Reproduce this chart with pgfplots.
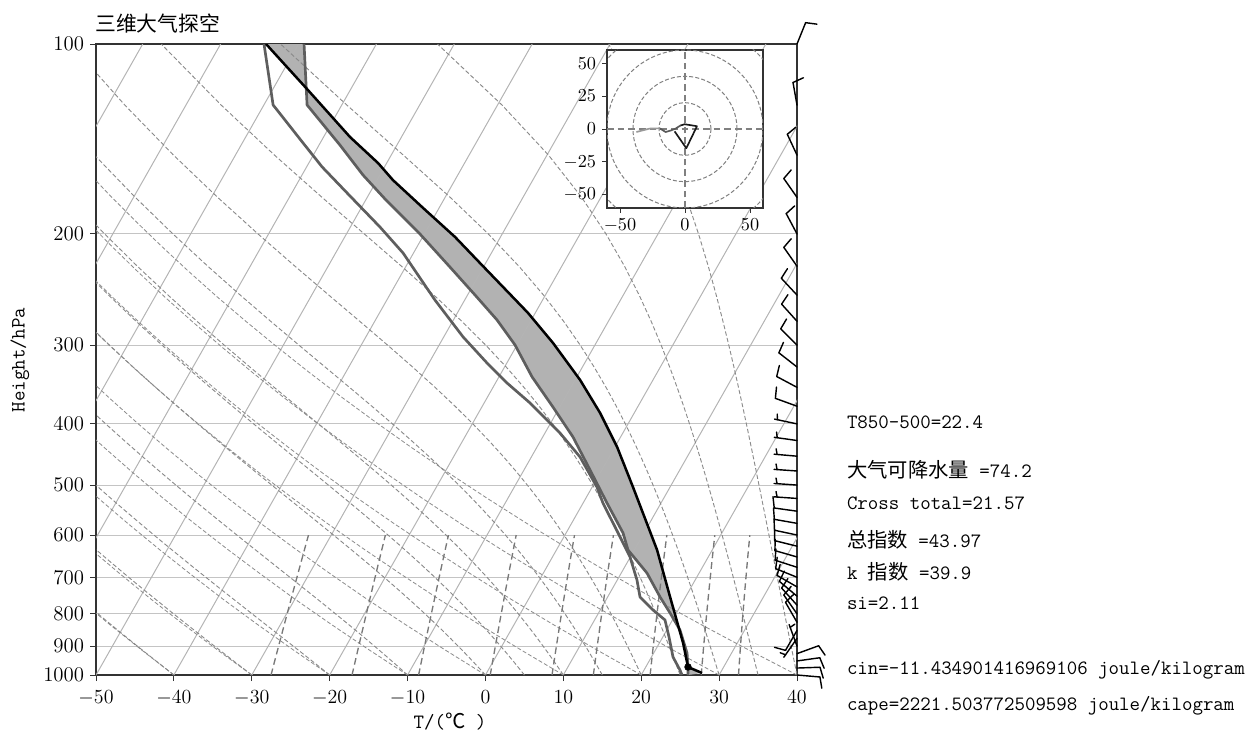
\documentclass[border=0pt]{standalone}
\usepackage{fontspec}
\usepackage{pgfplots}
\usepackage{pgfplotstable}
\pgfplotsset{compat=1.18}
\newfontfamily\cjk{Noto Sans CJK SC}

\definecolor{isoc}{HTML}{B4B4B4}
\definecolor{gridc}{HTML}{C4C4C4}
\definecolor{dryc}{HTML}{8E8E8E}
\definecolor{moistc}{HTML}{8A8A8A}
\definecolor{mixc}{HTML}{787878}
\definecolor{profc}{HTML}{5E5E5E}
\definecolor{shadec}{HTML}{B2B2B2}

\pgfplotsset{
 iso/.style={isoc, line width=0.6pt},
 dry/.style={dryc, line width=0.5pt, dash pattern=on 2.4pt off 1.3pt},
 moist/.style={moistc, line width=0.55pt, dash pattern=on 2.6pt off 1.4pt},
 mix/.style={mixc, line width=0.8pt, dash pattern=on 4pt off 2.4pt},
 table/skewx/.style={x expr={\thisrow{T}+46*log10(1000/\thisrow{p})}, y=p},
 table/barbbase/.style={x expr=420.6, y expr={378.6*log10(1000/\thisrow{p})}},
}

% environment temperature (hPa, degC)
\pgfplotstableread{
p T
1000 26.00
971.2 25.43
922.9 24.28
848.6 21.70
797.5 19.18
752.1 16.72
689.4 13.31
633.6 9.19
595.5 7.31
533.9 3.07
473.2 -1.52
419.6 -6.11
376.1 -10.87
337.0 -15.74
299.9 -20.26
273.7 -24.40
249.9 -29.04
225.7 -34.29
199.3 -40.75
176.7 -47.40
161.3 -52.17
144.6 -57.31
124.9 -64.46
100.0 -69.29
}\tempdata

% dewpoint
\pgfplotstableread{
p T
1000 25.24
981.9 24.61
936.5 22.77
870.6 20.80
818.1 19.04
788.8 16.77
752.1 14.15
707.1 12.53
650.1 9.96
604.3 7.22
533.9 2.55
503.6 0.61
451.3 -3.75
413.5 -8.07
370.6 -14.11
344.5 -18.52
320.3 -22.54
291.2 -27.52
254.5 -33.82
214.4 -41.34
195.0 -46.20
172.2 -52.91
156.6 -58.01
143.5 -62.20
124.9 -68.82
100.0 -74.43
}\dewdata

% parcel profile
\pgfplotstableread{
p T
992.7 27.66
971.2 25.42
889.7 23.04
752.1 18.01
633.6 12.92
503.6 5.24
435.0 0.27
384.3 -4.39
340.7 -9.36
297.7 -15.53
266.8 -20.93
245.4 -25.43
222.4 -30.73
202.2 -35.84
181.9 -42.06
164.3 -47.96
154.4 -51.11
140.4 -56.61
118.3 -65.43
100.0 -74.17
}\parceldata

% shaded area: temperature upward, then parcel downward
\pgfplotstableread{
p T
1000 26.00
971.2 25.43
922.9 24.28
848.6 21.70
797.5 19.18
752.1 16.72
689.4 13.31
633.6 9.19
595.5 7.31
533.9 3.07
473.2 -1.52
419.6 -6.11
376.1 -10.87
337.0 -15.74
299.9 -20.26
273.7 -24.40
249.9 -29.04
225.7 -34.29
199.3 -40.75
176.7 -47.40
161.3 -52.17
144.6 -57.31
124.9 -64.46
100.0 -69.29
100.0 -74.17
118.3 -65.43
140.4 -56.61
154.4 -51.11
164.3 -47.96
181.9 -42.06
202.2 -35.84
222.4 -30.73
245.4 -25.43
266.8 -20.93
297.7 -15.53
340.7 -9.36
384.3 -4.39
435.0 0.27
503.6 5.24
633.6 12.92
752.1 18.01
889.7 23.04
971.2 25.42
992.7 27.66
}\shadedata

\pgfplotstableread{
p T
971.2 25.42
}\lcldata

% wind barbs: pressure and staff direction (deg on screen); full-feather and half-feather sets
\pgfplotstableread{
p ang
100 68
125 100
150 115
175 125
200 118
225 125
250 133
275 132
300 135
325 142
350 152
375 160
550 172
575 170
600 168
625 166
650 164
675 162
700 158
725 150
750 140
775 132
800 125
825 120
850 240
925 20
950 8
975 2
1000 355
}\barbsF
\pgfplotstableread{
p ang
400 168
425 172
450 175
475 176
500 176
525 176
875 235
900 110
}\barbsH

% hodograph (u, v)
\pgfplotstableread{
u v
-8.0 -1.8
1.0 -14.6
9.2 2.1
4.9 2.8
-0.3 3.6
-3.6 2.6
}\hodoA
\pgfplotstableread{
u v
-3.6 2.6
-7.2 0.3
-10.5 -1.0
-14.9 -2.3
-19.5 0.5
}\hodoB
\pgfplotstableread{
u v
-19.5 0.5
-27.2 0.3
-37.4 -2.3
}\hodoC

% ---- moist adiabats (numerical integration, background diagram lines) ----
\newcommand\mlfun[2]{%
  \pgfmathparse{6.112*exp(17.67*(#1-273.15)/(#1-29.65))}\let\mles\pgfmathresult
  \pgfmathparse{0.622*\mles/(#2-\mles)}\let\mlrs\pgfmathresult
  \pgfmathparse{(287.04*#1+2501000*\mlrs)/(1005.7+13555000000*\mlrs/(#1*#1))}%
}
\def\allmoist{}
\newcommand\addmoist[1]{%
  \begingroup
  \pgfkeys{/pgf/fpu=true,/pgf/fpu/output format=fixed}%
  \pgfmathsetmacro\mT{#1+273.15}%
  \def\mP{1000}%
  \edef\mcoords{(#1,1000)}%
  \pgfplotsforeachungrouped \np in {975,950,925,900,875,850,825,800,775,750,725,700,675,650,625,600,575,550,525,500,475,450,425,400,375,350,325,300,275,250,225,200,175,150,125,100}{%
    \mlfun{\mT}{\mP}\let\kA\pgfmathresult
    \pgfmathsetmacro\dl{ln(\np/\mP)}%
    \pgfmathsetmacro\Tm{\mT+\dl*\kA}%
    \mlfun{\Tm}{\np}\let\kB\pgfmathresult
    \pgfmathsetmacro\mT{\mT+0.5*\dl*(\kA+\kB)}%
    \edef\mP{\np}%
    \pgfmathsetmacro\Xd{\mT-273.15+46*log10(1000/\np)}%
    \edef\mcoords{\mcoords (\Xd,\np)}%
  }%
  \xdef\allmoist{\unexpanded\expandafter{\allmoist}\noexpand\addplot[moist] coordinates {\mcoords};}%
  \endgroup
}
\addmoist{-50}\addmoist{-40}\addmoist{-30}\addmoist{-20}\addmoist{-10}%
\addmoist{0}\addmoist{5}\addmoist{10}\addmoist{15}\addmoist{20}\addmoist{25}%
\addmoist{30}\addmoist{35}\addmoist{40}%

\begin{document}
\begin{tikzpicture}
\begin{axis}[
  at={(0pt,0pt)}, anchor=south west, scale only axis,
  width=420.6pt, height=378.6pt,
  xmin=-50, xmax=40, ymin=100, ymax=1000,
  ymode=log, y dir=reverse,
  xtick={-50,-40,-30,-20,-10,0,10,20,30,40},
  ytick={100,200,300,400,500,600,700,800,900,1000},
  yticklabels={100,200,300,400,500,600,700,800,900,1000},
  yminorticks=false,
  tick pos=left, tick align=outside, major tick length=3.6pt,
  every tick/.style={black!80, line width=0.6pt},
  axis line style={black!80, line width=0.8pt},
  tick label style={font=\fontsize{12.5}{14}\selectfont},
  xticklabel style={yshift=-2pt},
  ymajorgrids, major grid style={gridc, line width=0.6pt},
  clip=true,
]
\addplot[fill=shadec, draw=none] table[skewx] {\shadedata} -- cycle;

% isotherms
\pgfplotsinvokeforeach{-90,-80,-70,-60,-50,-40,-30,-20,-10,0,10,20,30,40}{
  \addplot[iso, domain=0:1, samples=2, variable=\t] ({#1+46*\t},{1000*10^(-\t)});
}
% dry adiabats
\pgfplotsinvokeforeach{-50,-40,-30,-20,-10,0,10,20,30,40}{
  \addplot[dry, domain=0:1, samples=26, variable=\t] ({(#1+273.15)*10^(-0.2857*\t)-273.15+46*\t},{1000*10^(-\t)});
}
% moist adiabats
\allmoist
% mixing ratio lines
\pgfplotsinvokeforeach{0.0004,0.001,0.002,0.004,0.007,0.01,0.016,0.024,0.032}{
  \addplot[mix, domain=0:0.22185, samples=6, variable=\t]
   ({243.5*ln(#1*1000*10^(-\t)/((0.622+#1)*6.112))/(17.67-ln(#1*1000*10^(-\t)/((0.622+#1)*6.112)))+46*\t},{1000*10^(-\t)});
}

\addplot[profc, line width=1.6pt, line join=round] table[skewx] {\dewdata};
\addplot[profc, line width=1.6pt, line join=round] table[skewx] {\tempdata};
\addplot[black, line width=1.5pt, line join=round] table[skewx] {\parceldata};
\addplot[only marks, mark=*, mark size=2pt, black] table[skewx] {\lcldata};
\end{axis}

% wind barbs overlay (axis units = pt)
\begin{axis}[
  at={(0pt,0pt)}, anchor=south west, scale only axis,
  width=420.6pt, height=378.6pt,
  xmin=0, xmax=420.6, ymin=0, ymax=378.6,
  hide axis, clip=false]
% staffs
\addplot[black, line width=0.85pt, line cap=round,
  quiver={u={13.8*cos(\thisrow{ang})}, v={13.8*sin(\thisrow{ang})}}]
  table[barbbase] {\barbsF};
\addplot[black, line width=0.85pt, line cap=round,
  quiver={u={13.8*cos(\thisrow{ang})}, v={13.8*sin(\thisrow{ang})}}]
  table[barbbase] {\barbsH};
% full feathers at staff tip
\addplot[black, line width=0.85pt, line cap=round,
  quiver={u={6.6*sin(\thisrow{ang})+1.7*cos(\thisrow{ang})}, v={-6.6*cos(\thisrow{ang})+1.7*sin(\thisrow{ang})}}]
  table[x expr={420.6+13.8*cos(\thisrow{ang})}, y expr={378.6*log10(1000/\thisrow{p})+13.8*sin(\thisrow{ang})}] {\barbsF};
% half feathers one spacing inside the tip
\addplot[black, line width=0.85pt, line cap=round,
  quiver={u={3.3*sin(\thisrow{ang})+0.85*cos(\thisrow{ang})}, v={-3.3*cos(\thisrow{ang})+0.85*sin(\thisrow{ang})}}]
  table[x expr={420.6+12.0*cos(\thisrow{ang})}, y expr={378.6*log10(1000/\thisrow{p})+12.0*sin(\thisrow{ang})}] {\barbsH};
\end{axis}

% hodograph inset
\begin{axis}[
  at={(306.6pt,280.2pt)}, anchor=south west, scale only axis,
  width=93.6pt, height=94.8pt,
  xmin=-60, xmax=60, ymin=-60, ymax=60,
  xtick={-50,0,50}, ytick={-50,-25,0,25,50},
  tick pos=left, tick align=outside, major tick length=3pt,
  every tick/.style={black!80, line width=0.5pt},
  axis line style={black!80, line width=0.8pt},
  tick label style={font=\fontsize{10.5}{12}\selectfont},
  axis background/.style={fill=white},
  clip=true]
\pgfplotsinvokeforeach{20,40,60,80}{
  \draw[black!50, line width=0.6pt, dash pattern=on 2.4pt off 1.3pt] (axis cs:0,0) circle[radius=#1];
}
\addplot[black!50, line width=1.2pt, dash pattern=on 4pt off 2.4pt] coordinates {(-60,0) (60,0)};
\addplot[black!50, line width=1.2pt, dash pattern=on 4pt off 2.4pt] coordinates {(0,-60) (0,60)};
\addplot[black!90, line width=1pt, line join=round] table[x=u,y=v] {\hodoA};
\addplot[black!65, line width=1pt, line join=round] table[x=u,y=v] {\hodoB};
\addplot[black!40, line width=1pt, line join=round] table[x=u,y=v] {\hodoC};
\end{axis}

% titles and labels
\node[anchor=base west, font=\cjk\fontsize{12.5}{14}\selectfont, inner sep=0pt] at (-0.6pt,386.3pt) {三维大气探空};
\node[rotate=90, font=\ttfamily\fontsize{12.2}{14}\selectfont] at (-45.6pt,189pt) {Height/hPa};
\node[font=\ttfamily\fontsize{12.2}{14}\selectfont] at (212.4pt,-28.2pt) {T/({\cjk ℃}\ )};

% annotations
\begin{scope}[every node/.style={anchor=base west, inner sep=0pt, font=\ttfamily\fontsize{12.2}{14}\selectfont}]
\node at (450.4pt,148.0pt) {T850-500=22.4};
\node at (450.4pt,118.6pt) {{\cjk 大气可降水量} =74.2};
\node at (450.4pt,99.0pt) {Cross total=21.57};
\node at (450.4pt,76.5pt) {{\cjk 总指数} =43.97};
\node at (450.4pt,57.5pt) {k {\cjk 指数} =39.9};
\node at (450.4pt,39.0pt) {si=2.11};
\node at (450.4pt,0.0pt) {cin=-11.434901416969106 joule/kilogram};
\node at (450.4pt,-21.4pt) {cape=2221.503772509598 joule/kilogram};
\end{scope}
\pgfresetboundingbox
\path[use as bounding box] (-57.6pt,-35.4pt) rectangle (694.2pt,405pt);
\end{tikzpicture}
\end{document}
